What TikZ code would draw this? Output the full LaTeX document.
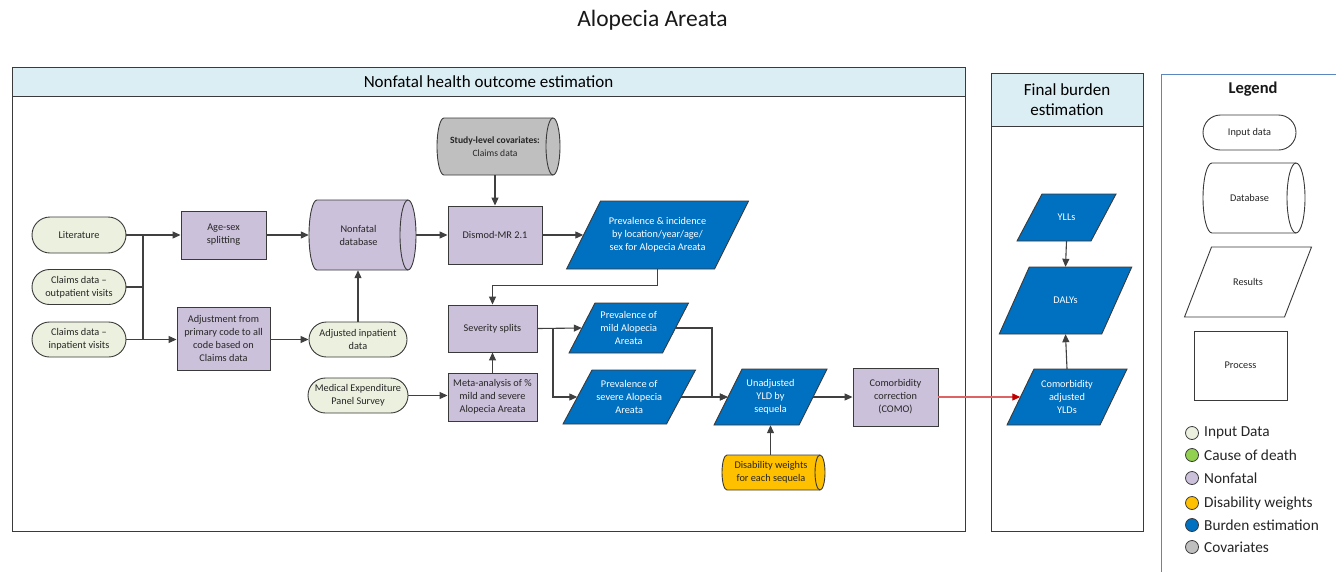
\documentclass[tikz,border=0pt]{standalone}
\usepackage{fontspec}
\setmainfont{Carlito}
\usetikzlibrary{arrows.meta,shapes.misc}

\definecolor{inputc}{HTML}{EBF1DE}
\definecolor{deathc}{HTML}{92D050}
\definecolor{nonfatalc}{HTML}{CCC1DA}
\definecolor{dwc}{HTML}{FFC000}
\definecolor{burdenc}{HTML}{0070C0}
\definecolor{covc}{HTML}{BFBFBF}
\definecolor{headc}{HTML}{DBEEF4}
\definecolor{edgec}{HTML}{3A3A3A}
\definecolor{connc}{HTML}{404040}
\definecolor{legc}{HTML}{5B87C0}
\definecolor{redline}{HTML}{DC6464}
\definecolor{redtip}{HTML}{C00000}

\tikzset{
  base/.style={font=\fontsize{10.3}{13}\selectfont, align=center, inner sep=0pt, text=black!85},
  inputbox/.style={base, rounded rectangle, draw=edgec, line width=0.9pt, fill=inputc},
  procbox/.style={base, rectangle, draw=edgec, line width=0.9pt, fill=nonfatalc},
  shapeline/.style={draw=edgec, line width=0.9pt},
  conn/.style={draw=connc, line width=1.1pt, -{Triangle[length=8pt,width=7pt]}},
  plain/.style={draw=connc, line width=1.1pt},
  frame/.style={draw=edgec, line width=1pt, inner sep=0pt},
  header/.style={draw=edgec, line width=1pt, fill=headc, inner sep=0pt, align=center,
    font=\fontsize{17}{19.5}\selectfont},
  legdot/.style={circle, draw=edgec, line width=0.8pt, minimum size=13pt, inner sep=0pt},
  legtext/.style={anchor=west, inner sep=0pt, font=\fontsize{15.3}{18}\selectfont, text=black!85},
}

% horizontal database cylinder: name, cx, cy, width, height, end radius, fill, text
\newcommand\dbshape[8]{%
  \draw[shapeline, fill=#7] ({#2-#4/2+#6},{#3-#5/2}) -- ({#2+#4/2-#6},{#3-#5/2})
    arc[start angle=90, end angle=-90, x radius=#6pt, y radius={#5/2*1pt}]
    -- ({#2-#4/2+#6},{#3+#5/2})
    arc[start angle=270, end angle=90, x radius=#6pt, y radius={#5/2*1pt}] -- cycle;
  \draw[shapeline] ({#2+#4/2-#6},{#3-#5/2})
    arc[start angle=90, end angle=270, x radius=#6pt, y radius={#5/2*1pt}];
  \node[base, minimum width=#4pt, minimum height=#5pt] (#1) at (#2,#3) {};
  \node[base] (#1-text) at ({#2-#6/2},#3) {#8};
}

% parallelogram: name, cx, cy, mid width, height, skew, fill, text colour, text
\newcommand\parashape[9]{%
  \draw[shapeline, fill=#7] ({#2-#4/2+#6/2},{#3-#5/2}) -- ({#2+#4/2+#6/2},{#3-#5/2})
    -- ({#2+#4/2-#6/2},{#3+#5/2}) -- ({#2-#4/2-#6/2},{#3+#5/2}) -- cycle;
  \node[base, text=#8, minimum width=#4pt, minimum height=#5pt] (#1) at (#2,#3) {#9};
}

\begin{document}
\begin{tikzpicture}[x=1pt, y=-1pt]
\useasboundingbox (0,0) rectangle (1336,571);
\fill[white] (0,0) rectangle (1336,571);

% title
\node[inner sep=0pt, font=\fontsize{23.5}{27}\selectfont, text=black!90] (title) at (652.5,20) {Alopecia Areata};

% frames
\node[frame, minimum width=953pt, minimum height=464pt] (nfframe) at (488.5,299) {};
\node[header, minimum width=953pt, minimum height=29pt] (nfhead) at (488.5,81.5) {Nonfatal health outcome estimation};
\node[frame, minimum width=152pt, minimum height=458pt] (fbframe) at (1067,302) {};
\node[header, minimum width=152pt, minimum height=53pt] (fbhead) at (1067,99.5) {Final burden\\estimation};

% legend frame (open to the right and below)
\coordinate (legtop) at (1161,74);
\draw[draw=legc, line width=1pt] (1345,74) -- (legtop) -- (1161,575);
\node[inner sep=0pt, font=\bfseries\fontsize{16.5}{19}\selectfont, text=black!90] (legtitle) at (1253,89) {Legend};
\node[inputbox, fill=white, minimum width=93pt, minimum height=35pt] (leginput) at (1249.5,132.5) {Input data};
\dbshape{legdb}{1254}{198}{102}{70}{9}{white}{Database}
\parashape{legres}{1248}{282}{100}{70}{27}{white}{black!85}{Results}
\node[procbox, fill=white, minimum width=93pt, minimum height=69pt] (legproc) at (1240.5,365.5) {Process};

\node[legdot, fill=inputc] (dot1) at (1192,433) {};
\node[legtext] (lt1) at (1204,433) {Input Data};
\node[legdot, fill=deathc] (dot2) at (1192,455) {};
\node[legtext] (lt2) at (1204,455) {Cause of death};
\node[legdot, fill=nonfatalc] (dot3) at (1192,478) {};
\node[legtext] (lt3) at (1204,478) {Nonfatal};
\node[legdot, fill=dwc] (dot4) at (1192,503) {};
\node[legtext] (lt4) at (1204,503) {Disability weights};
\node[legdot, fill=burdenc] (dot5) at (1192,525) {};
\node[legtext] (lt5) at (1204,525) {Burden estimation};
\node[legdot, fill=covc] (dot6) at (1192,547) {};
\node[legtext] (lt6) at (1204,547) {Covariates};

% input data
\node[inputbox, minimum width=94pt, minimum height=36pt] (lit) at (79,235) {Literature};
\node[inputbox, minimum width=94pt, minimum height=35pt] (outp) at (79,287) {Claims data --\\outpatient visits};
\node[inputbox, minimum width=94pt, minimum height=35pt] (inp) at (79,339.5) {Claims data --\\inpatient visits};
\node[inputbox, minimum width=98pt, minimum height=35pt] (adjinp) at (358,339.5) {Adjusted inpatient\\data};
\node[inputbox, minimum width=100pt, minimum height=35pt] (meps) at (358,395.5) {Medical Expenditure\\Panel Survey};

% processes
\node[procbox, minimum width=85pt, minimum height=48pt] (agesex) at (223.5,235) {Age-sex\\splitting};
\node[procbox, minimum width=93pt, minimum height=63pt] (adjust) at (223.5,338.5) {Adjustment from\\primary code to all\\code based on\\Claims data};
\node[procbox, minimum width=94pt, minimum height=58pt] (dismod) at (495,235) {Dismod-MR 2.1};
\node[procbox, minimum width=89pt, minimum height=47pt] (sev) at (492.5,328.5) {Severity splits};
\node[procbox, minimum width=89pt, minimum height=48pt] (meta) at (492.5,397) {Meta-analysis of \%\\mild and severe\\Alopecia Areata};
\node[procbox, minimum width=85pt, minimum height=58pt] (como) at (895.5,397) {Comorbidity\\correction\\(COMO)};

% databases
\dbshape{nfdb}{362.5}{235}{107}{70}{8}{nonfatalc}{Nonfatal\\database}
\dbshape{cov}{498.5}{146.5}{123}{57}{7}{covc}{{\fontsize{9.6}{10.5}\selectfont\textbf{Study-level covariates:}}\\{\fontsize{9.6}{10.5}\selectfont Claims data}}
\dbshape{dw}{773.5}{472.5}{103}{35}{5}{dwc}{Disability weights\\for each sequela}

% results
\parashape{prev}{657.5}{235}{148}{68}{34}{burdenc}{white}{Prevalence \& incidence\\by location/year/age/\\sex for Alopecia Areata}
\parashape{mild}{628.75}{328}{93.5}{50}{26}{burdenc}{white}{Prevalence of\\mild Alopecia\\Areata}
\parashape{severe}{629.25}{397}{103.5}{54}{29}{burdenc}{white}{Prevalence of\\severe Alopecia\\Areata}
\parashape{unadj}{770.5}{397}{85}{56}{28}{burdenc}{white}{Unadjusted\\YLD by\\sequela}
\parashape{comoadj}{1067}{397}{93}{56}{27}{burdenc}{white}{Comorbidity\\adjusted\\YLDs}
\parashape{dalys}{1065.5}{300.5}{102.5}{67}{30}{burdenc}{white}{DALYs}
\parashape{ylls}{1066.5}{217.5}{74}{47}{25}{burdenc}{white}{YLLs}

% connectors
\coordinate (jtop) at (143,235);
\coordinate (jbot) at (143,339.5);
\draw[conn] (lit.east) -- (agesex.west);
\draw[plain] (outp.east) -- (outp.east -| jtop);
\draw[plain] (jtop) -- (jbot);
\draw[conn] (inp.east) -- (inp.east -| adjust.west);
\draw[conn] (agesex.east) -- (nfdb.west);
\draw[conn] (adjust.east |- adjinp.west) -- (adjinp.west);
\draw[conn] (adjinp.north) -- (nfdb.south -| adjinp.north);
\draw[conn] (nfdb.east) -- (dismod.west);
\draw[conn] (dismod.north |- cov.south) -- (dismod.north);
\draw[conn] (dismod.east) -- (prev.west);
\draw[conn] (prev.south) -- ++(0,16) -| (sev.north);
\draw[conn] (meta.north) -- (sev.south);
\draw[conn] (meps.east) -- (meps.east -| meta.west);
\coordinate (split) at (553,328.5);
\draw[conn] (sev.east) -- (mild.west);
\draw[conn] (split) |- (severe.west);
\coordinate (merge) at (712,328);
\draw[conn] (mild.east) -- (merge) |- (unadj.west);
\draw[conn] (severe.east) -- (unadj.west);
\draw[conn] (unadj.south |- dw.north) -- (unadj.south);
\draw[conn] (unadj.east) -- (como.west);
\draw[draw=redline, line width=1.1pt, -{Triangle[length=8pt,width=7pt,color=redtip]}] (como.east) -- (comoadj.west);
\draw[conn] (comoadj.north) -- (dalys.south);
\draw[conn] (ylls.south) -- (dalys.north);
\end{tikzpicture}
\end{document}
